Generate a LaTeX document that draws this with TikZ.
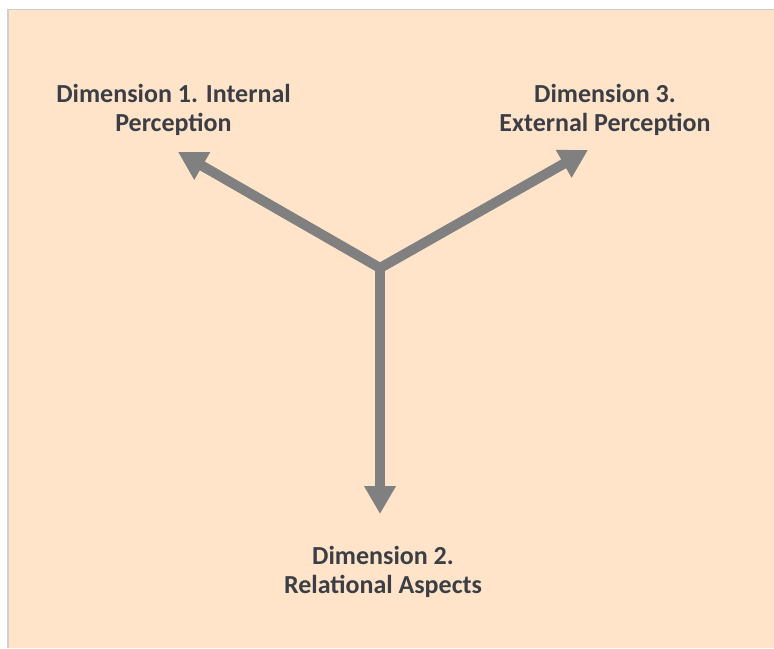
\documentclass[tikz,border=0pt]{standalone}
\usepackage{fontspec}
\setmainfont{Carlito}
\usetikzlibrary{arrows.meta}
\definecolor{peach}{HTML}{FFE4CA}
\definecolor{framegray}{HTML}{D0CECE}
\definecolor{axisgray}{HTML}{808080}
\definecolor{ink}{HTML}{3B3F45}
\begin{document}
\begin{tikzpicture}[
    x=0.5pt, y=-0.5pt,
    dimlabel/.style={font=\fontsize{13}{14.5}\selectfont\bfseries, text=ink, align=center, inner sep=0pt},
    axisline/.style={draw=axisgray, line width=5pt, line join=miter}
  ]
  % background
  \useasboundingbox (0,0) rectangle (774,648);
  \fill[peach] (8,9.5) rectangle (774,648);
  \draw[framegray, line width=0.7pt] (8,648) -- (8,9.5) -- (774,9.5);
  % hub and arrow ends
  \coordinate (hub) at (380,268);
  \coordinate (tipA) at (178,152);
  \coordinate (tipC) at (588,150);
  \coordinate (tipB) at (380,514);
  % labels (name/x/y/text)
  \foreach \name/\x/\y/\desc in {
    dimA/173.5/110/{Dimension 1. Internal\\Perception},
    dimC/605/110/{Dimension 3.\\External Perception},
    dimB/383/572/{Dimension 2.\\Relational Aspects}}
  {
    \node[dimlabel] (\name) at (\x,\y) {\desc};
  }
  % arrows
  \draw[axisline, {Triangle[length=14pt,width=15pt]}-{Triangle[length=14pt,width=15pt]}] (tipA) -- (hub) -- (tipC);
  \draw[axisline, -{Triangle[length=14pt,width=15pt]}] (hub) -- (tipB);
\end{tikzpicture}
\end{document}
